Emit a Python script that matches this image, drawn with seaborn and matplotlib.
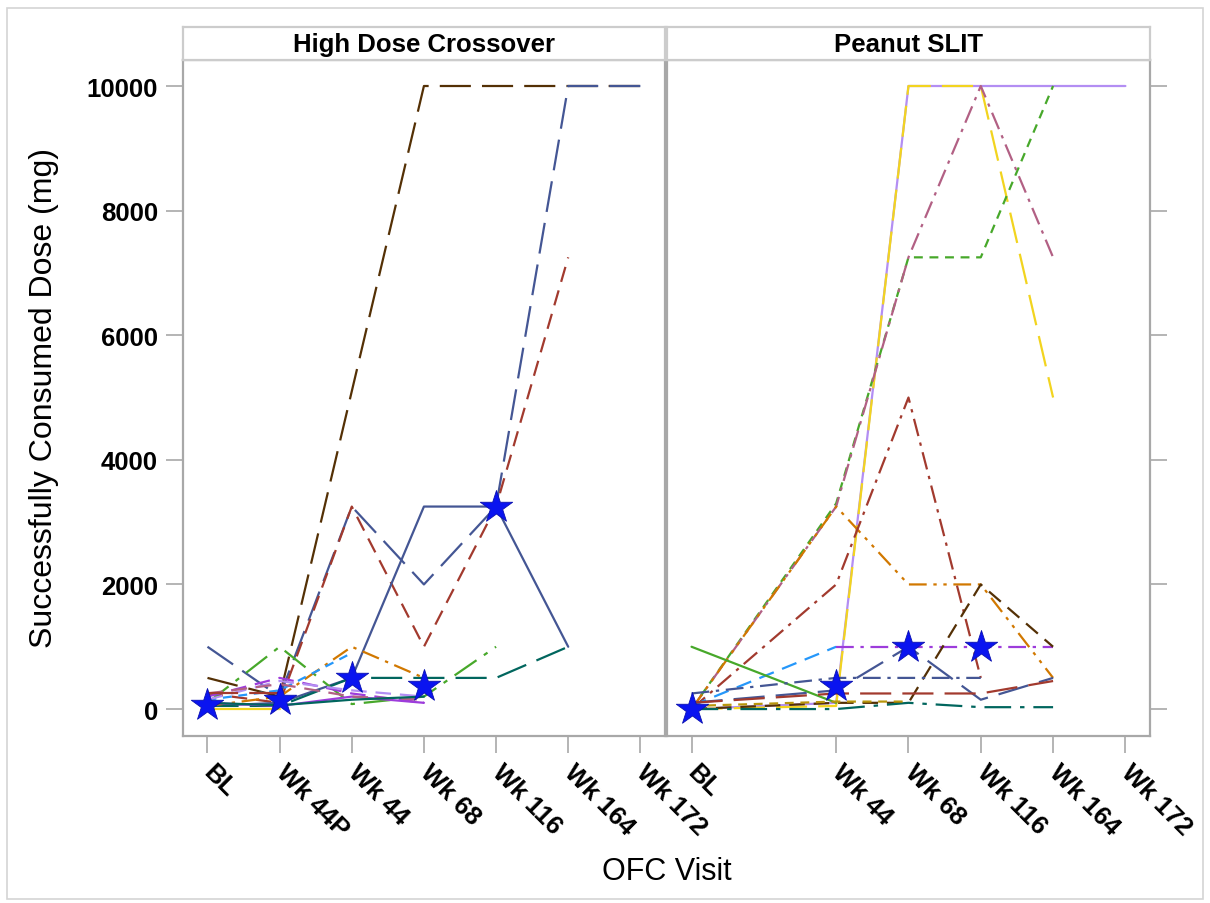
import matplotlib
matplotlib.use("Agg")
import matplotlib.pyplot as plt
from matplotlib.patches import Rectangle
import numpy as np
import pandas as pd
import seaborn as sns

# visit categories (shared x scale for both panels)
visits = ["BL", "Wk 44P", "Wk 44", "Wk 68", "Wk 116", "Wk 164", "Wk 172"]
slit_visits = ["BL", "Wk 44", "Wk 68", "Wk 116", "Wk 164", "Wk 172"]
panel_titles = ["High Dose Crossover", "Peanut SLIT"]

N = None
# High Dose Crossover subjects (mg per visit, None = not done)
hd01 = [500, 200, N, 10000, 10000, 10000, 10000]
hd02 = [1000, 200, 3250, 2000, 3250, 10000, 10000]
hd03 = [250, 100, 3250, 1000, 3250, 7250, N]
hd04 = [50, 100, 500, 3250, 3250, 1000, N]
hd05 = [100, 1000, 80, 200, 1000, N, N]
hd06 = [50, 50, 500, 500, 500, 1000, N]
hd07 = [50, 200, 1000, 500, N, N, N]
hd08 = [150, 300, 900, N, N, N, N]
hd09 = [200, 500, 250, 100, N, N, N]
hd10 = [100, 50, 200, 100, N, N, N]
hd11 = [150, 450, 300, 200, N, N, N]
hd12 = [0, 0, N, N, N, N, N]
hd13 = [250, 400, 200, 150, N, N, N]
hd14 = [250, 250, N, N, N, N, N]
hd15 = [100, 60, 150, 200, N, N, N]
hd_median = [60, 150, 500, 375, 3250, N, N]

# Peanut SLIT subjects (no Wk 44P visit)
sl01 = [0, N, 100, 10000, 10000, 10000, 10000]
sl02 = [0, N, 50, 10000, 10000, 5000, N]
sl03 = [0, N, 3300, 7250, 7250, 10000, N]
sl04 = [0, N, 3250, 7250, 10000, 7250, N]
sl05 = [0, N, 3250, 2000, 2000, 500, N]
sl06 = [0, N, 2000, 5000, 500, N, N]
sl07 = [50, N, 1000, N, N, N, N]
sl08 = [N, N, 1000, 1000, 1000, 1000, N]
sl09 = [1000, N, 100, N, N, N, N]
sl10 = [0, N, 100, 100, 2000, 1000, N]
sl11 = [100, N, 300, 1000, 150, 500, N]
sl12 = [250, N, 500, 500, 500, N, N]
sl13 = [100, N, 250, 250, 250, 450, N]
sl14 = [0, N, 0, 100, 30, 30, N]
sl15 = [50, N, 120, 120, N, N, N]
sl_median = [0, N, 375, 1000, 1000, N, N]

BLUE, RED, TEAL, BROWN = "#445694", "#A23A2E", "#01665E", "#543005"
PURPLE, LBLUE, MAUVE, ORANGE = "#9D3CDB", "#2597FA", "#B26084", "#D17800"
GREEN, LAV, YELLOW, GOLD = "#47A82A", "#B38EF3", "#F2D41F", "#B8960C"

SOLID = ""
LDASH = (14, 5)
DASH = (7, 4)
SDASH = (4, 3)
DDOT = (8, 3, 1.5, 3)
LDDOT = (12, 4, 2, 4)
D2DOT = (8, 3, 1.5, 3, 1.5, 3)

hd_groups = [
    ("hd01", hd01, BROWN, LDASH), ("hd02", hd02, BLUE, LDASH),
    ("hd03", hd03, RED, DASH), ("hd04", hd04, BLUE, SOLID),
    ("hd05", hd05, GREEN, LDDOT), ("hd06", hd06, TEAL, LDASH),
    ("hd07", hd07, ORANGE, DDOT), ("hd08", hd08, LBLUE, SDASH),
    ("hd09", hd09, PURPLE, DASH), ("hd10", hd10, PURPLE, SOLID),
    ("hd11", hd11, LAV, DASH), ("hd12", hd12, YELLOW, SOLID),
    ("hd13", hd13, MAUVE, DASH), ("hd14", hd14, RED, LDASH),
    ("hd15", hd15, TEAL, SOLID),
]
sl_groups = [
    ("sl01", sl01, LAV, SOLID), ("sl02", sl02, YELLOW, LDASH),
    ("sl03", sl03, GREEN, SDASH), ("sl04", sl04, MAUVE, DDOT),
    ("sl05", sl05, ORANGE, D2DOT), ("sl06", sl06, RED, DDOT),
    ("sl07", sl07, LBLUE, DASH), ("sl08", sl08, PURPLE, DDOT),
    ("sl09", sl09, GREEN, SOLID), ("sl10", sl10, BROWN, DASH),
    ("sl11", sl11, BLUE, LDASH), ("sl12", sl12, BLUE, DDOT),
    ("sl13", sl13, RED, LDASH), ("sl14", sl14, TEAL, LDDOT),
    ("sl15", sl15, GOLD, SDASH),
]


def long_frame(groups):
    rows = []
    for name, vals, _, _ in groups:
        for i, v in enumerate(vals):
            if v is not None:
                rows.append({"subject": name, "pos": i, "dose": v})
    return pd.DataFrame(rows)


sns.set_theme(style="white")
plt.rcParams["font.family"] = ["Liberation Sans", "DejaVu Sans"]
plt.rcParams["text.color"] = "black"
plt.rcParams["xtick.labelcolor"] = "black"
plt.rcParams["ytick.labelcolor"] = "black"

fig = plt.figure(figsize=(12.1, 9.04), dpi=100)
fig.patches.append(Rectangle((0.006, 0.004), 0.988, 0.986, transform=fig.transFigure,
                             fill=False, edgecolor="#D4D4D4", linewidth=1.2))

ax_l = fig.add_axes([0.1512, 0.1847, 0.3983, 0.7478])
ax_r = fig.add_axes([0.5512, 0.1847, 0.3992, 0.7478])

panels = [(ax_l, hd_groups, hd_median, visits, list(range(7))),
          (ax_r, sl_groups, sl_median, slit_visits, [0, 2, 3, 4, 5, 6])]

for k, (ax, groups, med, labels, ticks) in enumerate(panels):
    df = long_frame(groups)
    pal = {g[0]: g[2] for g in groups}
    dsh = {g[0]: g[3] for g in groups}
    sns.lineplot(data=df, x="pos", y="dose", hue="subject", style="subject",
                 palette=pal, dashes=dsh, estimator=None, errorbar=None,
                 legend=False, linewidth=1.6, ax=ax)
    mpos = [i for i, v in enumerate(med) if v is not None]
    mval = [v for v in med if v is not None]
    sns.scatterplot(x=mpos, y=mval, marker="*", s=600, color="#0A14F0",
                    edgecolor="#0A10B0", linewidth=0.6, zorder=5, ax=ax)

    ax.set_xlim(-0.34, 6.34)
    ax.set_ylim(-433, 10417)
    ax.set_xticks(ticks)
    ax.set_xticklabels(labels, rotation=-45, ha="left", va="center",
                       rotation_mode="anchor", fontsize=18.5, fontweight="bold",
                       color="black")
    ax.set_yticks(np.arange(0, 10001, 2000))
    ax.set_xlabel("")
    ax.set_ylabel("")
    for sp in ax.spines.values():
        sp.set_color("#A8A8A8")
        sp.set_linewidth(1.6)
    ax.tick_params(axis="both", direction="out", length=12, width=1.2,
                   color="#A8A8A8", pad=6)
    ax.tick_params(axis="x", pad=11)
    if k == 0:
        ax.tick_params(axis="y", left=True, right=False, labelleft=True)
        for t in ax.get_yticklabels():
            t.set_fontsize(18.5)
            t.set_fontweight("bold")
            t.set_color("black")
    else:
        ax.tick_params(axis="y", left=False, right=True, labelleft=False)
    ax.tick_params(axis="x", bottom=True)

    # panel header strip
    pos = ax.get_position()
    hax = fig.add_axes([pos.x0, 0.9325, pos.width, 0.0365])
    hax.set_xticks([])
    hax.set_yticks([])
    for sp in hax.spines.values():
        sp.set_color("#CCCCCC")
        sp.set_linewidth(1.6)
    hax.text(0.5, 0.5, panel_titles[k], ha="center", va="center",
             fontsize=18.5, fontweight="bold", color="black",
             transform=hax.transAxes)

fig.text(0.5512, 0.035, "OFC Visit", ha="center", va="center", fontsize=22,
         color="black")
fig.text(0.036, 0.56, "Successfully Consumed Dose (mg)", ha="center", va="center",
         rotation=90, fontsize=23, color="black")

fig.savefig("out.png", dpi=100)
